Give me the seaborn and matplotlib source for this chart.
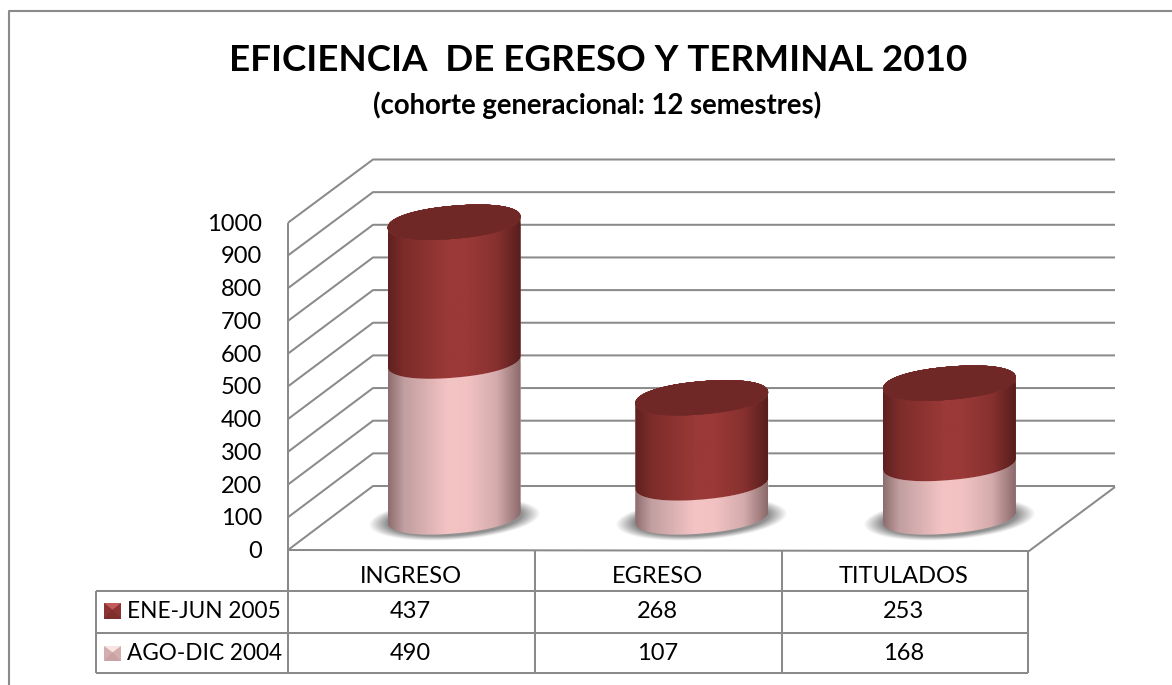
import numpy as np
import pandas as pd
import matplotlib
matplotlib.use("Agg")
import matplotlib.pyplot as plt
from matplotlib.path import Path
from matplotlib.colors import to_rgb
import seaborn as sns

# ---- data ----
categories = ["INGRESO", "EGRESO", "TITULADOS"]
ago_dic_2004 = [490, 107, 168]
ene_jun_2005 = [437, 268, 253]
series_names = ["ENE-JUN 2005", "AGO-DIC 2004"]
tick_values = list(range(0, 1001, 100))
title = "EFICIENCIA  DE EGRESO Y TERMINAL 2010"
subtitle = "(cohorte generacional: 12 semestres)"

# ---- style ----
W, H = 1172, 685
sns.set_theme(style="white")
plt.rcParams["font.family"] = ["Lato", "DejaVu Sans"]
LINE = "#8a8a8a"
DARK_STOPS = ["#5f2120", "#7c2c2a", "#9a3937", "#9a3937", "#87312f", "#571e1d"]
LIGHT_STOPS = ["#8d6d6e", "#c19e9f", "#f4c4c5", "#f2c2c3", "#d4abac", "#8b6a6b"]
STOP_POS = [0, .12, .45, .6, .82, 1]
CAP_EDGE, CAP_FILL = "#a34744", "#702826"

fig = plt.figure(figsize=(W / 100, H / 100), dpi=100, facecolor="white")


def pixel_axes(z):
    a = fig.add_axes([0, 0, 1, 1], zorder=z, facecolor="none")
    a.set_xlim(0, W)
    a.set_ylim(H, 0)
    a.axis("off")
    return a


back = pixel_axes(0)
front = pixel_axes(2)

# ---- seaborn stacked bars, on the mid-depth plane of the 3-D box ----
ax = fig.add_axes([330.25 / W, (H - 517) / H, 743 / W, 318 / H], zorder=1, facecolor="none")
df = pd.DataFrame({"cat": categories, "low": ago_dic_2004, "high": ene_jun_2005})
sns.barplot(data=df, x="cat", y="low", color=LIGHT_STOPS[2], width=.537, saturation=1, ax=ax)
sns.barplot(data=df, x="cat", y="high", bottom=df["low"], color=DARK_STOPS[2], width=.537,
            saturation=1, ax=ax)
ax.set_xlim(-.5, 2.5)
ax.set_ylim(0, 1000)
ax.axis("off")


# ---- walls ----
def y_front(v):
    return 550 - .3273 * v


def y_back(v):
    return 486 - .3265 * v


lkw = dict(color=LINE, lw=1.45, solid_capstyle="butt")
for v in tick_values:
    back.plot([288, 373, 1115], [y_front(v), y_back(v), y_back(v)], **lkw)
    back.text(262, y_front(v) + 1.5, str(v), ha="right", va="center", fontsize=17, color="black")
back.plot([288, 288], [y_front(1000), 591], **lkw)
back.plot([288, 1029, 1115], [550, 551, 487], **lkw)

# chart frame
back.plot([9, 9, W], [H, 10.5, 10.5], color=LINE, lw=1.5)

# titles
back.text(598.5, 60.5, title, ha="center", va="center", fontsize=26.45, fontweight="bold", color="black")
back.text(597.5, 105, subtitle, ha="center", va="center", fontsize=19.8, fontweight="bold", color="black")

# ---- data table ----
table_cols = [288, 535, 782, 1028]
row_lines = [550, 591, 632.5, 673]
for x in table_cols:
    back.plot([x, x], [row_lines[0], row_lines[-1]], **lkw)
back.plot([96, 96], [row_lines[1], row_lines[-1]], **lkw)
for y in row_lines[1:]:
    back.plot([96, 1028], [y, y], **lkw)
col_mid = [(table_cols[i] + table_cols[i + 1]) / 2 for i in range(3)]
for xm, cat, hi, lo in zip(col_mid, categories, ene_jun_2005, ago_dic_2004):
    back.text(xm - 1, 576.5, cat, ha="center", va="center", fontsize=17, color="black")
    back.text(xm - 1, 611.5, str(hi), ha="center", va="center", fontsize=17, color="black")
    back.text(xm - 1, 653, str(lo), ha="center", va="center", fontsize=17, color="black")

key_boxes = [(104, 603, 121, 619), (104, 646, 121, 661)]
key_cols = [("#c25a5a", "#8c3433", "#7d2e2d"), ("#f8e4e4", "#d4aeae", "#c9a3a3")]
for name, (x0, y0, x1, y1), (top, side, bot), ty in zip(series_names, key_boxes, key_cols, [611.5, 653]):
    xm, ym = (x0 + x1) / 2, y0 + (y1 - y0) * .42
    back.fill([x0, x1, x1, x0], [y0, y0, y1, y1], color=side, lw=0)
    back.fill([x0, x1, xm], [y0, y0, ym], color=top, lw=0)
    back.fill([x0, x1, xm], [y1, y1, ym], color=bot, lw=0)
    back.text(127, ty, name, ha="left", va="center", fontsize=16.3, color="black")

# ---- cylinders built from the seaborn bars ----
A_T = np.linspace(0, 2 * np.pi, 361)
B_, S_ = 16.5, 5.5
ROUND = .92


def ell(cx, cy, a, b=B_, s=S_, t=A_T):
    c = np.sign(np.cos(t)) * np.abs(np.cos(t)) ** ROUND
    d = np.sign(np.sin(t)) * np.abs(np.sin(t)) ** ROUND
    return cx + a * c, cy + b * d - s * c


def gradient(stops, n=256):
    pos = np.linspace(0, 1, n)
    rgb = np.array([to_rgb(c) for c in stops])
    return np.stack([np.interp(pos, STOP_POS, rgb[:, i]) for i in range(3)], axis=-1)[None, :, :]


def body(patch, stops, z):
    (px0, py1), (px1, py0) = front.transData.inverted().transform(
        ax.transData.transform([(patch.get_x(), patch.get_y()),
                                (patch.get_x() + patch.get_width(), patch.get_y() + patch.get_height())]))
    cx, a = (px0 + px1) / 2, (px1 - px0) / 2
    t = np.linspace(np.pi, 0, 160)
    xb, yb = ell(cx, py1, a, t=t)
    xt, yt = ell(cx, py0, a, t=t[::-1])
    verts = np.vstack([np.column_stack([xb, yb]), np.column_stack([xt, yt]), [[xb[0], yb[0]]]])
    path = Path(verts, closed=True)
    im = front.imshow(gradient(stops), extent=[px0, px1, py1 + 30, py0 - 30], aspect="auto",
                      interpolation="bilinear", zorder=z)
    im.set_clip_path(path, transform=front.transData)
    patch.set_clip_path(path, transform=front.transData)
    return cx, a, py0, py1


def shadow(cx, cy, a):
    xs = np.linspace(cx - a - 26, cx + a + 26, 300)
    ys = np.linspace(cy - 34, cy + 34, 120)
    gx, gy = np.meshgrid(xs, ys)
    u = (gx - cx) / (a + 17)
    v = (gy - cy + 5.5 * u) / 20.5
    r = np.sqrt(u ** 2 + v ** 2)
    alpha = np.clip((1.03 - r) / .22, 0, 1) * .68
    img = np.zeros(gx.shape + (4,))
    img[..., :3] = .36
    img[..., 3] = alpha
    front.imshow(img, extent=[xs[0], xs[-1], ys[-1], ys[0]], aspect="auto", zorder=3)


low_bars, high_bars = ax.patches[:3], ax.patches[3:6]
for lowb, highb in zip(low_bars, high_bars):
    cx, a, _, base = body(lowb, LIGHT_STOPS, 5)
    shadow(cx, base + 2, a)
    cx, a, top, _ = body(highb, DARK_STOPS, 6)
    # top cap with a soft bevel along its front rim
    e0, e1 = np.array(to_rgb(CAP_EDGE)), np.array(to_rgb(CAP_FILL))
    ox, oy = ell(cx, top, a)
    front.fill(ox, oy, color=CAP_EDGE, lw=0, zorder=7)
    for i, f in enumerate(np.linspace(.08, 1, 14)):
        shift = 8 * f
        x, y = ell(cx, top - shift, a - .2)
        y = np.maximum(y, oy)
        col = e0 + (e1 - e0) * min(1, f ** .8)
        front.fill(x, y, color=col, lw=0, zorder=7.01 + i * .01)

front.set_xlim(0, W)
front.set_ylim(H, 0)
fig.savefig("out.png", dpi=100, facecolor="white")
